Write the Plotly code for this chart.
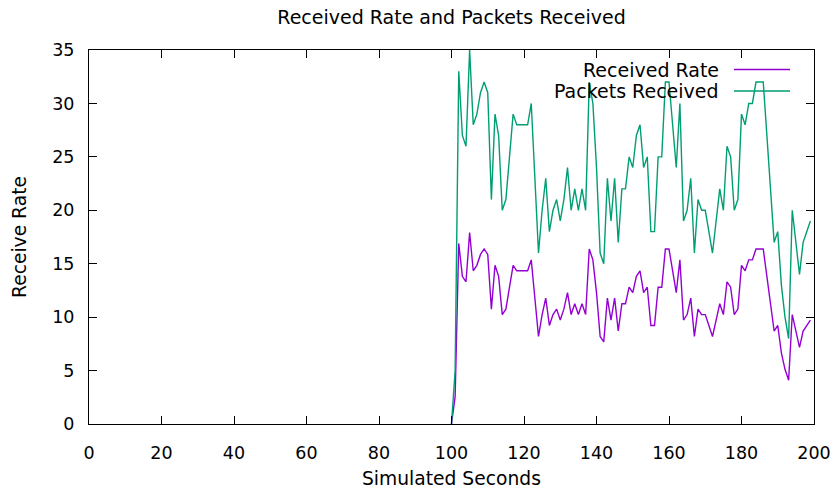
import plotly.graph_objects as go

seconds = list(range(100, 200))

packets_received = [
    0, 5, 33, 27, 26, 35, 28, 29, 31, 32,
    31, 21, 29, 27, 20, 21, 25, 29, 28, 28,
    28, 28, 30, 23, 16, 20, 23, 18, 20, 21,
    19, 21, 24, 20, 22, 20, 22, 20, 32, 30,
    24, 16, 15, 23, 19, 23, 17, 22, 22, 25,
    24, 27, 28, 24, 25, 18, 18, 25, 25, 32,
    32, 28, 24, 30, 19, 20, 23, 16, 21, 20,
    20, 18, 16, 19, 22, 20, 26, 25, 20, 21,
    29, 28, 30, 30, 32, 32, 32, 27, 22, 17,
    18, 13, 10, 8, 20, 17, 14, 17, 18, 19,
]

received_rate = [
    0.0, 2.56, 16.9, 13.82, 13.31, 17.92, 14.34, 14.85, 15.87, 16.38,
    15.87, 10.75, 14.85, 13.82, 10.24, 10.75, 12.8, 14.85, 14.34, 14.34,
    14.34, 14.34, 15.36, 11.78, 8.19, 10.24, 11.78, 9.22, 10.24, 10.75,
    9.73, 10.75, 12.29, 10.24, 11.26, 10.24, 11.26, 10.24, 16.38, 15.36,
    12.29, 8.19, 7.68, 11.78, 9.73, 11.78, 8.7, 11.26, 11.26, 12.8,
    12.29, 13.82, 14.34, 12.29, 12.8, 9.22, 9.22, 12.8, 12.8, 16.38,
    16.38, 14.34, 12.29, 15.36, 9.73, 10.24, 11.78, 8.19, 10.75, 10.24,
    10.24, 9.22, 8.19, 9.73, 11.26, 10.24, 13.31, 12.8, 10.24, 10.75,
    14.85, 14.34, 15.36, 15.36, 16.38, 16.38, 16.38, 13.82, 11.26, 8.7,
    9.22, 6.66, 5.12, 4.1, 10.24, 8.7, 7.17, 8.7, 9.22, 9.73,
]

x_ticks = [0, 20, 40, 60, 80, 100, 120, 140, 160, 180, 200]
y_ticks = [0, 5, 10, 15, 20, 25, 30, 35]

PURPLE = "#9400d3"
GREEN = "#009e73"
FONT = "DejaVu Sans"

W, H = 839, 490
L, T, R, B = 89, 50, 25, 66
PW, PH = W - L - R, H - T - B  # 725 x 374 plot area

fig = go.Figure()
fig.add_trace(go.Scatter(x=seconds, y=received_rate, mode="lines",
                         name="Received Rate", line=dict(color=PURPLE, width=1.4)))
fig.add_trace(go.Scatter(x=seconds, y=packets_received, mode="lines",
                         name="Packets Received", line=dict(color=GREEN, width=1.4)))

axis_common = dict(
    showgrid=False, zeroline=False, showline=True, linecolor="#000000", linewidth=1,
    mirror="allticks", ticks="inside", ticklen=8, tickcolor="#000000", tickwidth=1,
    tickfont=dict(family=FONT, size=17.5, color="#000000"), automargin=False,
)

fig.update_layout(
    width=W, height=H, autosize=False,
    paper_bgcolor="white", plot_bgcolor="white",
    margin=dict(l=L, r=R, t=T, b=B, autoexpand=False),
    showlegend=False,
    title=dict(text="Received Rate and Packets Received", x=0.5, xref="paper",
               y=1 - 17 / H, yref="container", xanchor="center", yanchor="middle",
               font=dict(family=FONT, size=19, color="#000000")),
    xaxis=dict(range=[0, 200], tickvals=x_ticks, ticklabelstandoff=13, **axis_common),
    yaxis=dict(range=[0, 35], tickvals=y_ticks, ticklabelstandoff=10, **axis_common),
)

# Axis titles
fig.add_annotation(text="Simulated Seconds", xref="paper", yref="paper",
                   x=0.5, y=-(479 - 424) / PH, xanchor="center", yanchor="middle",
                   showarrow=False, font=dict(family=FONT, size=18.7, color="#000000"))
fig.add_annotation(text="Receive Rate", xref="paper", yref="paper",
                   x=-(89 - 19) / PW, y=0.5, xanchor="center", yanchor="middle",
                   textangle=-90, showarrow=False,
                   font=dict(family=FONT, size=18.7, color="#000000"))

# gnuplot-style key: right-justified text followed by line sample
key_rows = [("Received Rate", PURPLE, (424 - 69.5) / PH),
            ("Packets Received", GREEN, (424 - 91) / PH)]
for label, color, ky in key_rows:
    fig.add_annotation(text=label, xref="paper", yref="paper",
                       x=(721 - 89) / PW, y=ky, xanchor="right", yanchor="middle",
                       showarrow=False, font=dict(family=FONT, size=19, color="#000000"))
    fig.add_shape(type="line", xref="paper", yref="paper",
                  x0=(734 - 89) / PW, x1=(790 - 89) / PW, y0=ky, y1=ky,
                  line=dict(color=color, width=1.4))

fig.write_html(
    "out.html",
    config={"displayModeBar": False, "responsive": False},
    post_script="document.body.style.margin='0';document.body.style.overflow='hidden';",
)
